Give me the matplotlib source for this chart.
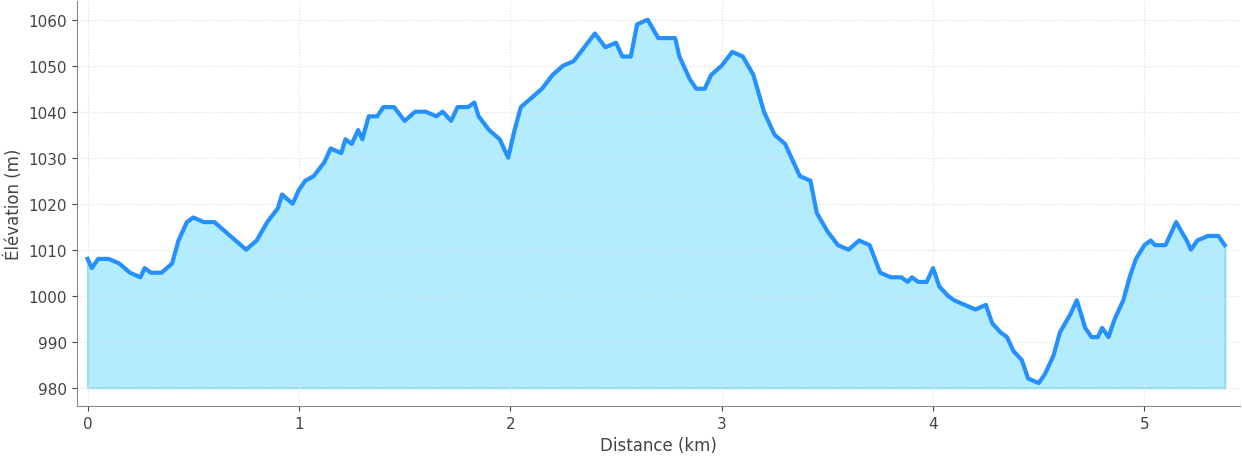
import matplotlib
matplotlib.use("Agg")
import matplotlib.pyplot as plt

distance_km = [0,0.02,0.05,0.1,0.15,0.2,0.25,0.27,0.3,0.35,0.4,0.43,0.47,0.5,0.55,0.6,0.65,0.7,0.75,0.8,0.85,0.9,0.92,0.97,
    1.0,1.03,1.07,1.12,1.15,1.2,1.22,1.25,1.28,1.3,1.33,1.37,1.4,1.45,1.5,1.55,1.6,1.65,1.68,1.72,1.75,1.8,1.83,1.85,1.9,1.95,1.99,
    2.02,2.05,2.1,2.15,2.2,2.25,2.3,2.35,2.4,2.45,2.5,2.53,2.57,2.6,2.65,2.7,2.75,2.78,2.8,2.85,2.88,2.92,2.95,
    3.0,3.05,3.1,3.15,3.2,3.25,3.3,3.33,3.37,3.42,3.45,3.5,3.55,3.6,3.65,3.7,3.75,3.8,3.85,3.88,3.9,3.93,3.97,
    4.0,4.03,4.07,4.1,4.15,4.2,4.25,4.28,4.32,4.35,4.38,4.42,4.45,4.5,4.53,4.57,4.6,4.65,4.68,4.72,4.75,4.78,4.8,4.83,4.86,4.9,4.93,4.96,
    5.0,5.03,5.05,5.1,5.15,5.2,5.22,5.25,5.3,5.35,5.38]
elevation_m = [1008,1006,1008,1008,1007,1005,1004,1006,1005,1005,1007,1012,1016,1017,1016,1016,1014,1012,1010,1012,1016,1019,1022,1020,
    1023,1025,1026,1029,1032,1031,1034,1033,1036,1034,1039,1039,1041,1041,1038,1040,1040,1039,1040,1038,1041,1041,1042,1039,1036,1034,1030,
    1036,1041,1043,1045,1048,1050,1051,1054,1057,1054,1055,1052,1052,1059,1060,1056,1056,1056,1052,1047,1045,1045,1048,
    1050,1053,1052,1048,1040,1035,1033,1030,1026,1025,1018,1014,1011,1010,1012,1011,1005,1004,1004,1003,1004,1003,1003,
    1006,1002,1000,999,998,997,998,994,992,991,988,986,982,981,983,987,992,996,999,993,991,991,993,991,995,999,1004,1008,
    1011,1012,1011,1011,1016,1012,1010,1012,1013,1013,1011]

fig, ax = plt.subplots(figsize=(12.42, 4.6), dpi=100)
ax.fill_between(distance_km, elevation_m, 980, color="#b3ecfd", edgecolor="#8fdcf2", linewidth=1.5)
ax.plot(distance_km, elevation_m, color="#2590ff", linewidth=3)
ax.set_xlim(-0.05, 5.45)
ax.set_ylim(976, 1064)
ax.set_yticks(range(980, 1061, 10))
ax.set_xlabel("Distance (km)", fontsize=12, color="#444")
ax.set_ylabel("Élévation (m)", fontsize=12, color="#444")
ax.grid(True, linestyle=":", color="#dddddd")
for s in ["top", "right"]:
    ax.spines[s].set_visible(False)
for s in ["left", "bottom"]:
    ax.spines[s].set_color("#888")
ax.tick_params(colors="#444", labelsize=11)
fig.subplots_adjust(left=0.062, right=0.998, top=0.995, bottom=0.115)
fig.savefig("out.png")
